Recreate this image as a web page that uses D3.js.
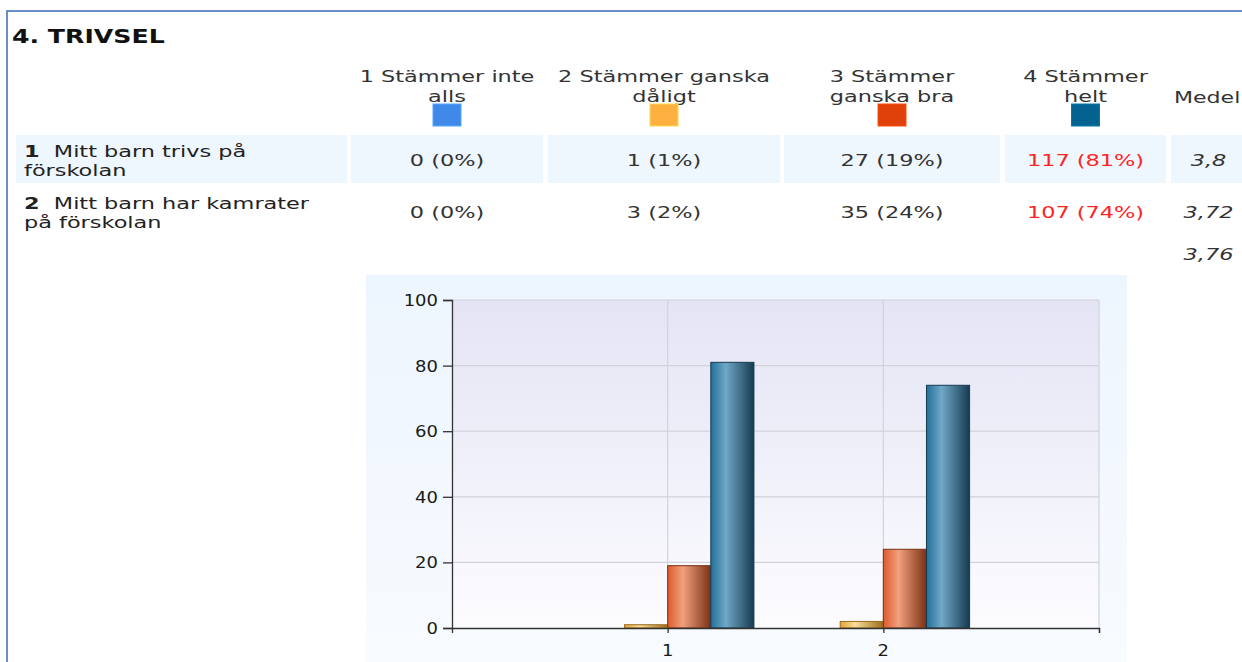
<!DOCTYPE html>
<html>
<head>
<meta charset="utf-8">
<script src="https://cdn.jsdelivr.net/npm/d3@7"></script>
<style>
  html, body { margin: 0; padding: 0; background: #fff; }
  svg { display: block; }
  text { font-family: "DejaVu Sans", Verdana, sans-serif; }
</style>
</head>
<body>
<div id="chart"></div>
<script>
/* 4. TRIVSEL - survey table with grouped bar chart */

// ---- data ----
const sectionTitle = "4. TRIVSEL";
const scaleLabels = [["1 Stämmer inte", "alls"], ["2 Stämmer ganska", "dåligt"], ["3 Stämmer", "ganska bra"], ["4 Stämmer", "helt"]];
const scaleColors = ["#4189e8", "#fbb040", "#e0400a", "#03628f"];
const questionNumbers = ["1", "2"];
const questionTexts = [["Mitt barn trivs på", "förskolan"], ["Mitt barn har kamrater", "på förskolan"]];
const answerCounts = [[0, 1, 27, 117], [0, 3, 35, 107]];
const answerPercents = [[0, 1, 19, 81], [0, 2, 24, 74]];
const meanLabel = "Medel";
const meanValues = ["3,8", "3,72"];
const totalMean = "3,76";
const yTicks = [0, 20, 40, 60, 80, 100];
const xTicks = [1, 2];

// bar shading per series: [edge, highlight, shadow]
const barShades = [
	["#3a78c8", "#8cb8ef", "#1f4677"],
	["#e2a43a", "#f9dc98", "#9c6c1c"],
	["#de5a2c", "#f2a07e", "#7a3114"],
	["#22709a", "#70a8c6", "#163a50"]
];

// ---- layout ----
const W = 1242, H = 662;
const SX = 1.4;        // horizontal stretch of body text
const cols = [[16, 347], [351, 543], [548, 780], [784, 1000], [1005, 1166], [1171, 1250]];
const rowTop = [135, 187], rowH = 48;

var svg = d3.select("#chart").append("svg")
	.attr("width", W)
	.attr("height", H);

var defs = svg.append("defs");

// text helper, stretched horizontally like the source
function addText(g, str, x, y, opt = {}) {
	var t = g.append("text")
		.attr("transform", "translate(" + x + "," + y + ") scale(" + (opt.sx || SX) + ",1)")
		.attr("text-anchor", opt.anchor || "start")
		.attr("font-size", opt.size || 16)
		.attr("font-weight", opt.weight || "normal")
		.attr("font-style", opt.style || "normal")
		.attr("fill", opt.fill || "#222")
		.text(str);
	return t;
}

function colCenter(i) { return (cols[i][0] + cols[i][1]) / 2; }

// frame
svg.append("line").attr("x1", 7).attr("x2", W).attr("y1", 11).attr("y2", 11)
	.attr("stroke", "#6a8fc8").attr("stroke-width", 2);
svg.append("line").attr("x1", 7).attr("x2", 7).attr("y1", 10).attr("y2", H)
	.attr("stroke", "#6a8fc8").attr("stroke-width", 2);

// title
addText(svg, sectionTitle, 12, 43, { size: 20, weight: "bold", sx: 1.26, fill: "#111" });

// header labels + legend squares
scaleLabels.forEach(function(lines, i) {
	var cx = colCenter(i + 1);
	addText(svg, lines[0], cx, 82, { anchor: "middle", fill: "#333" });
	addText(svg, lines[1], cx, 102, { anchor: "middle", fill: "#333" });
	svg.append("rect")
		.attr("x", cx - 14).attr("y", 104)
		.attr("width", 28).attr("height", 22)
		.attr("fill", scaleColors[i])
		.attr("stroke", d3.color(scaleColors[i]).brighter(0.6))
		.attr("stroke-width", 1);
});
addText(svg, meanLabel, 1174, 103, { fill: "#333", sx: 1.38 });

// rows
questionTexts.forEach(function(lines, r) {
	var top = rowTop[r];
	if (r === 0) {
		svg.selectAll(".cellbg").data(cols).enter()
			.append("rect")
			.attr("class", "cellbg")
			.attr("x", d => d[0]).attr("y", top)
			.attr("width", d => d[1] - d[0]).attr("height", rowH)
			.attr("fill", "#eef6fe");
	}
	var q = addText(svg, "", 24, top + 22, { fill: "#222" });
	q.append("tspan").attr("font-weight", "bold").text(questionNumbers[r]);
	q.append("tspan").text("\u00a0\u00a0" + lines[0]);
	addText(svg, lines[1], 24, top + 41, { fill: "#222" });

	var maxCount = d3.max(answerCounts[r]);
	answerCounts[r].forEach(function(c, k) {
		addText(svg, c + " (" + answerPercents[r][k] + "%)", colCenter(k + 1), top + 31, {
			anchor: "middle",
			fill: c === maxCount ? "#ff2424" : "#333"
		});
	});
	addText(svg, meanValues[r], colCenter(5) - 2, top + 31, { anchor: "middle", style: "italic", fill: "#333" });
});
addText(svg, totalMean, colCenter(5) - 2, 260, { anchor: "middle", style: "italic", fill: "#333" });

// ---- chart ----
var panel = defs.append("linearGradient").attr("id", "panelGrad")
	.attr("x1", 0).attr("y1", 0).attr("x2", 0).attr("y2", 1);
panel.append("stop").attr("offset", "0%").attr("stop-color", "#edf5fe");
panel.append("stop").attr("offset", "100%").attr("stop-color", "#f8fbff");

var plotBg = defs.append("linearGradient").attr("id", "plotGrad")
	.attr("x1", 0).attr("y1", 0).attr("x2", 0).attr("y2", 1);
plotBg.append("stop").attr("offset", "0%").attr("stop-color", "#e4e4f5");
plotBg.append("stop").attr("offset", "100%").attr("stop-color", "#fcfcff");

barShades.forEach(function(s, i) {
	var g = defs.append("linearGradient").attr("id", "bar" + i)
		.attr("x1", 0).attr("y1", 0).attr("x2", 1).attr("y2", 0);
	g.append("stop").attr("offset", "0%").attr("stop-color", s[0]);
	g.append("stop").attr("offset", "35%").attr("stop-color", s[1]);
	g.append("stop").attr("offset", "100%").attr("stop-color", s[2]);
});

svg.append("rect")
	.attr("x", 366).attr("y", 275).attr("width", 761).attr("height", H - 275)
	.attr("fill", "url(#panelGrad)");

var x = d3.scaleLinear().domain([0, 3]).range([452, 1099]);
var y = d3.scaleLinear().domain([0, 100]).range([628, 300]);

svg.append("rect")
	.attr("x", x(0)).attr("y", y(100))
	.attr("width", x(3) - x(0)).attr("height", y(0) - y(100))
	.attr("fill", "url(#plotGrad)");

// grid
svg.selectAll(".hgrid").data(yTicks.slice(1)).enter()
	.append("line").attr("class", "hgrid")
	.attr("x1", x(0)).attr("x2", x(3))
	.attr("y1", d => y(d)).attr("y2", d => y(d))
	.attr("stroke", "#d2d2da").attr("stroke-width", 1.2);
svg.selectAll(".vgrid").data(xTicks.concat([3])).enter()
	.append("line").attr("class", "vgrid")
	.attr("x1", d => x(d)).attr("x2", d => x(d))
	.attr("y1", y(100)).attr("y2", y(0))
	.attr("stroke", "#d2d2da").attr("stroke-width", 1.2);

// bars
var bw = x(0.2) - x(0);
answerPercents.forEach(function(vals, r) {
	svg.selectAll(".bar" + r).data(vals).enter()
		.append("rect").attr("class", "bar" + r)
		.attr("x", (d, i) => x(xTicks[r] + (i - 2) * 0.2))
		.attr("y", d => y(d))
		.attr("width", bw)
		.attr("height", d => y(0) - y(d))
		.attr("fill", (d, i) => "url(#bar" + i + ")")
		.attr("stroke", (d, i) => barShades[i][2])
		.attr("stroke-width", 1)
		.attr("display", d => d > 0 ? null : "none");
});

// axes
var yAxis = svg.append("g")
	.attr("transform", "translate(" + x(0) + ",0)")
	.call(d3.axisLeft(y).tickValues(yTicks).tickSize(9).tickFormat(""));
var xAxis = svg.append("g")
	.attr("transform", "translate(0," + y(0) + ")")
	.call(d3.axisBottom(x).tickValues(xTicks.concat([3])).tickSize(5).tickFormat(""));
[yAxis, xAxis].forEach(function(a) {
	a.select(".domain").attr("stroke", "#333").attr("stroke-width", 1.3);
	a.selectAll(".tick line").attr("stroke", "#333").attr("stroke-width", 1.3);
});

yTicks.forEach(function(v) {
	addText(svg, String(v), 438, y(v) + 6, { anchor: "end", size: 15, sx: 1.2, fill: "#1a1a1a" });
});
xTicks.forEach(function(v) {
	addText(svg, String(v), x(v), 656, { anchor: "middle", size: 15, sx: 1.2, fill: "#1a1a1a" });
});
</script>
</body>
</html>
